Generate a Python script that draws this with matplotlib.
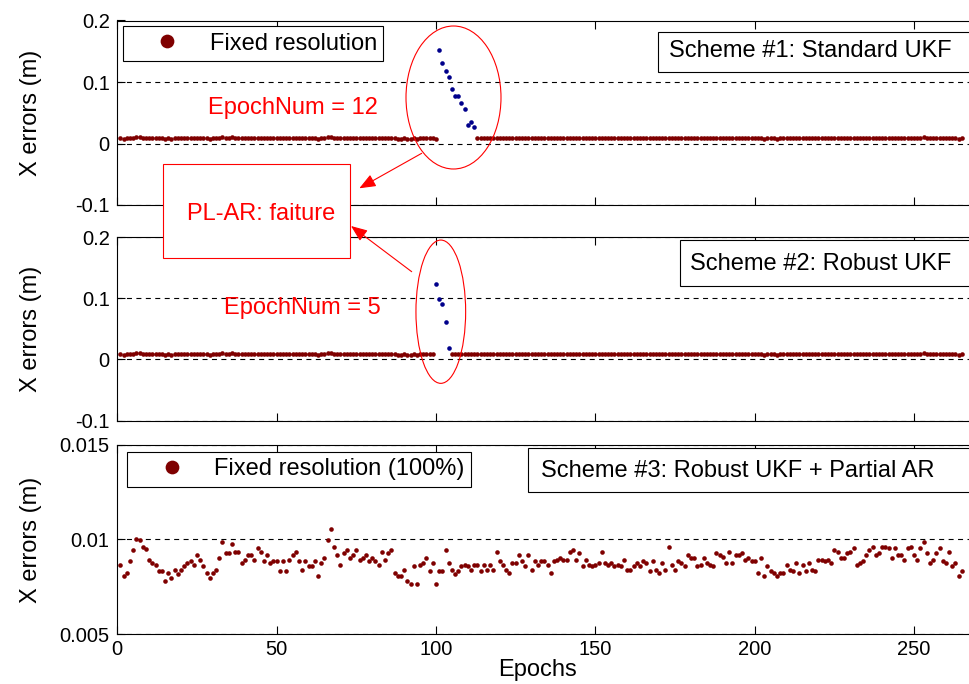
import numpy as np
import matplotlib
matplotlib.use("Agg")
import matplotlib.pyplot as plt
from matplotlib.patches import Ellipse, Rectangle, FancyArrowPatch
from matplotlib.lines import Line2D

plt.rcParams['font.family'] = ['Liberation Sans', 'DejaVu Sans']

# ---------------- data ----------------
# X errors of the fixed solution (mm), epochs 1..265
x_err_mm = [
    8.67, 8.07, 8.25, 8.84, 9.44, 10.04, 9.95, 9.61, 9.51, 8.93,
    8.75, 8.67, 8.33, 8.33, 7.82, 8.25, 7.98, 8.40, 8.16, 8.40,
    8.58, 8.75, 8.84, 8.67, 9.18, 8.93, 8.58, 8.25, 7.98, 8.25,
    8.40, 9.00, 9.86, 9.26, 9.26, 9.77, 9.35, 9.35, 8.75, 8.93,
    9.18, 9.18, 8.93, 9.53, 9.35, 8.84, 9.18, 8.75, 8.84, 8.84,
    8.33, 8.84, 8.33, 8.93, 9.18, 9.35, 8.84, 8.40, 8.84, 8.58,
    8.58, 8.84, 8.07, 8.75, 9.02, 9.95, 10.56,
    9.61, 9.19, 8.67, 9.28, 9.44, 9.02, 9.19, 9.44, 8.93, 9.02,
    9.19, 8.84, 9.02, 8.84, 8.67, 9.35, 8.93, 9.28, 9.44, 8.25,
    8.07, 8.07, 8.40, 7.81, 7.63, 8.58, 7.63, 8.67, 8.75, 9.02,
    8.33, 8.75, 7.63, 8.33, 8.33, 9.44, 8.75, 8.40, 8.16, 8.33,
    8.58, 8.67, 8.58, 8.40, 8.67, 8.67, 8.33, 8.67, 8.40, 8.67,
    8.40, 9.35, 8.84, 8.67, 8.40, 8.25, 8.75, 8.75, 9.19, 8.84,
    8.58, 9.19, 8.40, 8.84, 8.67, 8.84,
    8.84, 8.67, 8.25, 8.84, 8.93, 9.02, 8.93, 8.93, 9.35, 9.44,
    8.93, 9.26, 8.58, 8.93, 8.67, 8.58, 8.67, 8.75, 9.35, 8.75,
    8.67, 8.75, 8.58, 8.67, 8.58, 8.93, 8.40, 8.40, 8.58, 8.75,
    8.58, 8.84, 8.75, 8.33, 8.84, 8.40, 8.25, 8.75, 8.40, 9.61,
    8.67, 8.40, 8.84, 8.75, 8.58, 9.18, 9.02, 9.02, 8.58, 8.67,
    9.02, 8.75, 8.67, 8.58, 9.26, 9.18, 9.10, 8.75, 9.35, 8.75, 9.18,
    9.18, 9.26, 8.93, 9.02, 8.84, 8.84,
    8.25, 9.02, 8.07, 8.58, 8.33, 8.25, 8.07, 8.25, 8.25, 8.67,
    8.40, 8.33, 8.75, 8.25, 8.67, 8.33, 8.75, 8.40, 8.33, 8.93,
    8.93, 8.84, 8.93, 8.75, 9.44, 9.35, 9.02, 9.02, 9.26, 9.35,
    9.53, 8.67, 8.75, 8.84, 9.18, 9.44, 9.61, 9.18, 9.26, 9.61,
    9.61, 9.53, 9.02, 9.53, 9.18, 9.18, 8.93, 9.53, 9.61, 9.18, 8.93,
    9.53, 9.86, 9.26, 8.75, 8.93, 9.26, 9.53, 8.84, 8.75, 9.35,
    8.58, 8.75, 8.07, 8.33,
]

# Scheme #1: float (failed) epochs
s1_fail_epochs = [101, 102, 103, 104, 105, 106, 107, 108, 109, 110, 111, 112]
s1_fail_err = [0.1514, 0.1303, 0.1173, 0.1086, 0.0881, 0.0773,
               0.0773, 0.0665, 0.0557, 0.0297, 0.0351, 0.0270]
# Scheme #2: float (failed) epochs
s2_fail_epochs = [100, 101, 102, 103, 104]
s2_fail_err = [0.123, 0.0989, 0.0907, 0.0617, 0.0191]

xticks = [0, 50, 100, 150, 200, 250]
yticks_12 = [-0.1, 0, 0.1, 0.2]
yticklabels_12 = ['-0.1', '0', '0.1', '0.2']
yticks_3 = [0.005, 0.01, 0.015]
yticklabels_3 = ['0.005', '0.01', '0.015']

# ---------------- figure ----------------
W, H = 970, 684
fig = plt.figure(figsize=(W / 100, H / 100), dpi=100)


def fx(px):
    return px / W


def fy(py):
    return 1 - py / H


left_px, right_px = 117.3, 977.8
xmax = 270
ax_rects = [(20.5, 205.0), (237.0, 420.7), (445.0, 634.0)]
axes = []
for top, bot in ax_rects:
    ax = fig.add_axes([fx(left_px), fy(bot), (right_px - left_px) / W, (bot - top) / H])
    axes.append(ax)

epochs = np.arange(1, len(x_err_mm) + 1)
err_m = np.array(x_err_mm) / 1000.0
RED = '#7f0000'
BLUE = '#00008b'
FS = 17
ms = 3.3

for i, ax in enumerate(axes):
    ax.set_xlim(0, xmax)
    ax.set_xticks(xticks)
    ax.tick_params(direction='in', top=True, right=True, length=5.5, width=0.8,
                   labelsize=14.5, colors='k')
    ax.tick_params(axis='y', pad=5.5)
    ax.tick_params(axis='x', pad=4.5)
    for sp in ax.spines.values():
        sp.set_linewidth(0.8)
    ax.grid(axis='y', linestyle=(0, (4.5, 4)), color='k', linewidth=0.8)
    ax.set_axisbelow(True)
    ax.set_ylabel('X errors (m)', fontsize=FS)
    ax.yaxis.set_label_coords((42 - left_px) / (right_px - left_px), 0.5)

# panel 1
ax1 = axes[0]
mask1 = ~np.isin(epochs, s1_fail_epochs)
l1, = ax1.plot(epochs[mask1], err_m[mask1], 'o', color=RED, ms=ms, mew=0, label='Fixed resolution')
ax1.plot(s1_fail_epochs, s1_fail_err, 'o', color=BLUE, ms=ms, mew=0)
ax1.set_ylim(-0.1, 0.2)
ax1.set_yticks(yticks_12)
ax1.set_yticklabels(yticklabels_12)
ax1.tick_params(labelbottom=False)

# panel 2
ax2 = axes[1]
mask2 = ~np.isin(epochs, s2_fail_epochs)
ax2.plot(epochs[mask2], err_m[mask2], 'o', color=RED, ms=ms, mew=0)
ax2.plot(s2_fail_epochs, s2_fail_err, 'o', color=BLUE, ms=ms, mew=0)
ax2.set_ylim(-0.1, 0.2)
ax2.set_yticks(yticks_12)
ax2.set_yticklabels(yticklabels_12)
ax2.tick_params(labelbottom=False)

# panel 3
ax3 = axes[2]
l3, = ax3.plot(epochs, err_m, 'o', color=RED, ms=ms, mew=0, label='Fixed resolution (100%)')
ax3.set_ylim(0.005, 0.015)
ax3.set_yticks(yticks_3)
ax3.set_yticklabels(yticklabels_3)
ax3.set_xlabel('Epochs', fontsize=FS)
ax3.xaxis.set_label_coords((538 - left_px) / (right_px - left_px), (634 - 659) / (634 - 445))

# legends
for ax, line, (lx, ly) in [(ax1, l1, (122.7, 26.0)), (ax3, l3, (127.3, 451.7))]:
    leg = ax.legend(handles=[line], loc='upper left', bbox_to_anchor=(fx(lx), fy(ly)),
                    bbox_transform=fig.transFigure, borderaxespad=0, fontsize=FS,
                    markerscale=3.0, fancybox=False, edgecolor='k', framealpha=1,
                    borderpad=0.28, handlelength=3.2, handletextpad=0.2)
    leg.get_frame().set_linewidth(0.8)

# scheme boxes
scheme_boxes = [
    ('Scheme #1: Standard UKF', 658, 31.7, 71.7, 669, 56.7),
    ('Scheme #2: Robust UKF', 680, 240.0, 286.0, 690, 270.0),
    ('Scheme #3: Robust UKF + Partial AR', 528.3, 448.3, 491.7, 541, 476.7),
]
for txt, bx, btop, bbot, tx, tby in scheme_boxes:
    r = Rectangle((fx(bx), fy(bbot)), fx(1000) - fx(bx), (bbot - btop) / H,
                  transform=fig.transFigure, facecolor='white', edgecolor='k',
                  linewidth=0.8, zorder=5)
    fig.add_artist(r)
    fig.text(fx(tx), fy(tby), txt, fontsize=FS, ha='left', va='baseline', zorder=6)

# red annotations
fig.add_artist(Ellipse((fx(453.5), fy(97.5)), 95 / W, 143 / H, transform=fig.transFigure,
                       fill=False, edgecolor='red', linewidth=0.8, zorder=5))
fig.add_artist(Ellipse((fx(440.8), fy(311.7)), 49.7 / W, 143.3 / H, transform=fig.transFigure,
                       fill=False, edgecolor='red', linewidth=0.8, zorder=5))
for (ax_, ay_), (bx_, by_) in [((421.7, 153.3), (359.3, 188.3)), ((411.7, 271.7), (351.0, 226.0))]:
    fig.add_artist(FancyArrowPatch((fx(ax_), fy(ay_)), (fx(bx_), fy(by_)),
                                   transform=fig.transFigure,
                                   arrowstyle='-|>,head_length=1.0,head_width=0.4',
                                   mutation_scale=10, color='red', linewidth=0.8,
                                   shrinkA=0, shrinkB=0, zorder=5))
fig.add_artist(Rectangle((fx(162.7), fy(257.7)), (350 - 162.7) / W, (257.7 - 164) / H,
                         transform=fig.transFigure, facecolor='white', edgecolor='red',
                         linewidth=0.8, zorder=5))
fig.text(fx(261.3), fy(220), 'PL-AR: faiture', fontsize=FS, color='red',
         ha='center', va='baseline', zorder=6)
fig.text(fx(292.8), fy(114.3), 'EpochNum = 12', fontsize=FS, color='red',
         ha='center', va='baseline', zorder=6)
fig.text(fx(302.8), fy(314), 'EpochNum = 5', fontsize=FS, color='red',
         ha='center', va='baseline', zorder=6)

fig.savefig('out.png', dpi=100)
